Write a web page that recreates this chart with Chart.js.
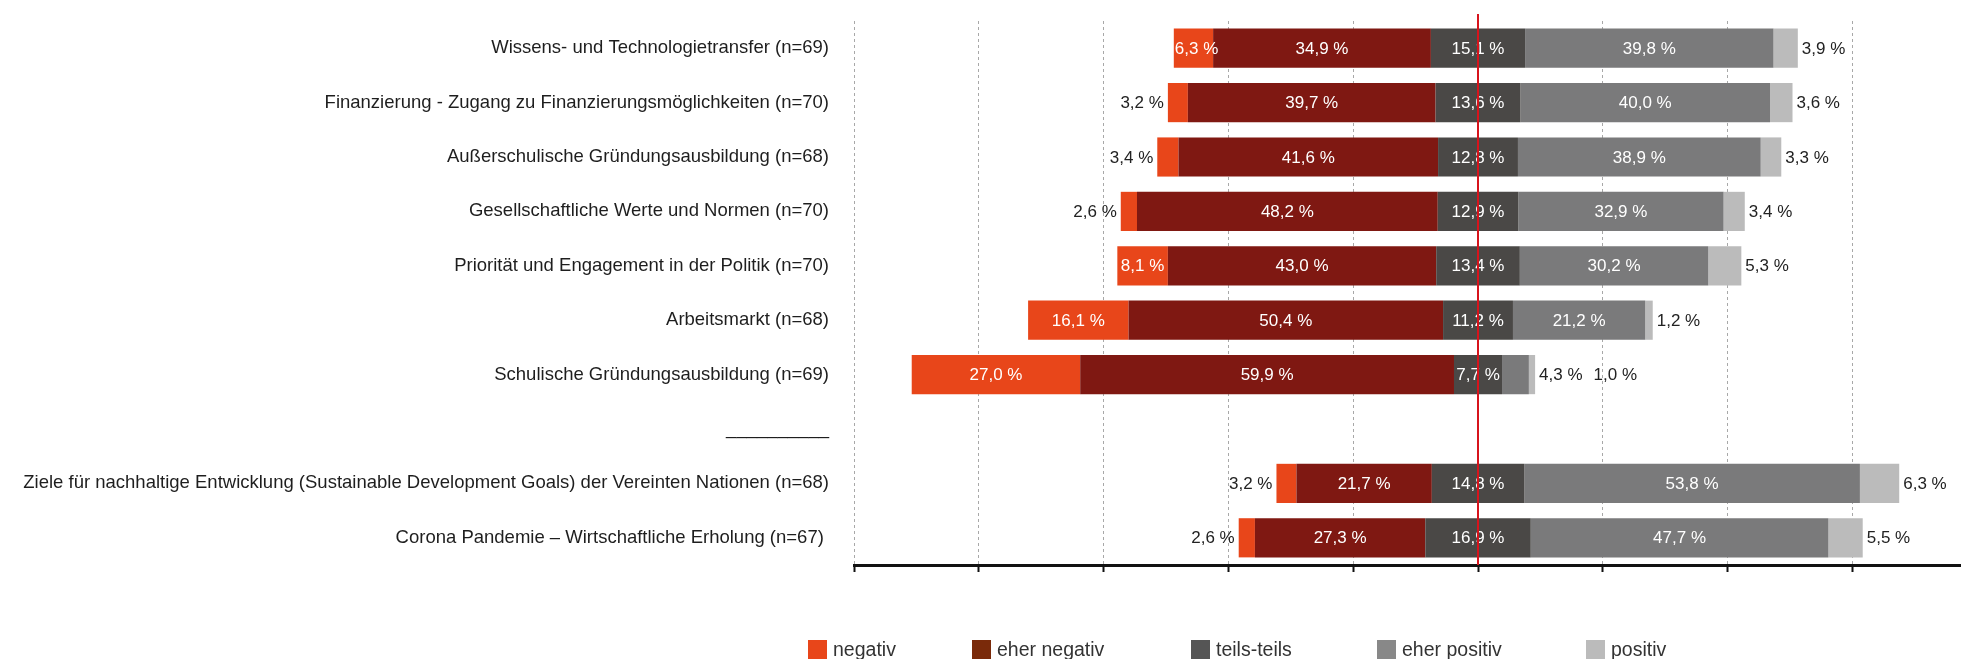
<!DOCTYPE html>
<html>
<head>
<meta charset="utf-8">
<script src="https://cdn.jsdelivr.net/npm/chart.js@4.4.1/dist/chart.umd.min.js"></script>
<style>
html,body{margin:0;padding:0;background:#fff;}
#wrap{position:relative;width:1961px;height:659px;overflow:hidden;background:#fff;}
#legend{position:absolute;left:0;top:640px;width:1961px;height:19px;font:19.5px 'Liberation Sans',Arial,sans-serif;color:#333;}
.li{position:absolute;top:0;height:19px;line-height:19px;white-space:nowrap;}
.li .box{display:inline-block;width:19px;height:19px;vertical-align:top;margin-right:6px;}
</style>
</head>
<body>
<div id="wrap"><canvas id="c" width="1961" height="659"></canvas><div id="legend"></div></div>
<script>
// ---- data ----
const categories = [
  "Wissens- und Technologietransfer (n=69)",
  "Finanzierung - Zugang zu Finanzierungsmöglichkeiten (n=70)",
  "Außerschulische Gründungsausbildung (n=68)",
  "Gesellschaftliche Werte und Normen (n=70)",
  "Priorität und Engagement in der Politik (n=70)",
  "Arbeitsmarkt (n=68)",
  "Schulische Gründungsausbildung (n=69)",
  "__________",
  "Ziele für nachhaltige Entwicklung (Sustainable Development Goals) der Vereinten Nationen (n=68)",
  "Corona Pandemie – Wirtschaftliche Erholung (n=67) "
];
const negativ     = [6.3, 3.2, 3.4, 2.6, 8.1, 16.1, 27.0, null, 3.2, 2.6];
const eherNegativ = [34.9, 39.7, 41.6, 48.2, 43.0, 50.4, 59.9, null, 21.7, 27.3];
const teilsTeils  = [15.1, 13.6, 12.8, 12.9, 13.4, 11.2, 7.7, null, 14.8, 16.9];
const eherPositiv = [39.8, 40.0, 38.9, 32.9, 30.2, 21.2, 4.3, null, 53.8, 47.7];
const positiv     = [3.9, 3.6, 3.3, 3.4, 5.3, 1.2, 1.0, null, 6.3, 5.5];
const seriesNames = ["negativ", "eher negativ", "teils-teils", "eher positiv", "positiv"];
const xTickValues = [-100, -80, -60, -40, -20, 0, 20, 40, 60];

// ---- styles ----
const FONT = "'Liberation Sans', Arial, sans-serif";
const barColors = {neg: '#E8461A', eneg: '#7F1812', teil: '#4A4846', epos: '#7A7A7B', pos: '#BBBBBB'};
const legendColors = ['#E8461A', '#7A2A0A', '#555555', '#888888', '#BBBBBB'];
const legendLefts = [808, 972, 1191, 1377, 1586];

Chart.defaults.font.family = FONT;

const neg = a => a.map(v => v == null ? null : -v);
const half = a => a.map(v => v == null ? null : v / 2);

const datasets = [
  {label: seriesNames[2], key: 'teilL', data: neg(half(teilsTeils)), backgroundColor: barColors.teil},
  {label: seriesNames[1], key: 'eneg', data: neg(eherNegativ), backgroundColor: barColors.eneg},
  {label: seriesNames[0], key: 'neg', data: neg(negativ), backgroundColor: barColors.neg},
  {label: seriesNames[2], key: 'teilR', data: half(teilsTeils), backgroundColor: barColors.teil},
  {label: seriesNames[3], key: 'epos', data: eherPositiv, backgroundColor: barColors.epos},
  {label: seriesNames[4], key: 'pos', data: positiv, backgroundColor: barColors.pos}
].map(d => Object.assign(d, {stack: 's', borderWidth: 0, barPercentage: 0.72, categoryPercentage: 1.0}));

const fmt = v => v.toFixed(1).replace('.', ',') + ' %';

const labelPlugin = {
  id: 'barLabels',
  afterDatasetsDraw(chart) {
    const ctx = chart.ctx;
    const xs = chart.scales.x;
    const metas = {};
    chart.data.datasets.forEach((d, i) => { metas[d.key] = chart.getDatasetMeta(i); });
    ctx.save();
    ctx.font = '17px ' + FONT;
    ctx.textBaseline = 'middle';
    const inside = '#FFFFFF', outside = '#222222';
    for (let i = 0; i < categories.length; i++) {
      if (teilsTeils[i] == null) continue;
      const eN = metas.neg.data[i], eEN = metas.eneg.data[i], eTL = metas.teilL.data[i],
            eEP = metas.epos.data[i], eP = metas.pos.data[i];
      const y = eTL.y + 1;
      const seg = e => ({a: Math.min(e.x, e.base), b: Math.max(e.x, e.base)});
      const fits = (s, t) => (s.b - s.a) >= 0.8 * ctx.measureText(t).width;
      ctx.fillStyle = inside; ctx.textAlign = 'center';
      ctx.fillText(fmt(teilsTeils[i]), xs.getPixelForValue(0), y);
      let s = seg(eEN); let t = fmt(eherNegativ[i]);
      ctx.fillText(t, (s.a + s.b) / 2, y);
      s = seg(eN); t = fmt(negativ[i]);
      if (fits(s, t)) {
        ctx.fillStyle = inside;
        const w = ctx.measureText(t).width;
        if (w > s.b - s.a) { ctx.textAlign = 'left'; ctx.fillText(t, s.a + 1, y); }
        else { ctx.textAlign = 'center'; ctx.fillText(t, (s.a + s.b) / 2, y); }
      }
      else { ctx.fillStyle = outside; ctx.textAlign = 'right'; ctx.fillText(t, s.a - 4, y); }
      let cursor = seg(eP).b + 4;
      s = seg(eEP); t = fmt(eherPositiv[i]);
      if (fits(s, t)) { ctx.fillStyle = inside; ctx.textAlign = 'center'; ctx.fillText(t, (s.a + s.b) / 2, y); }
      else { ctx.fillStyle = outside; ctx.textAlign = 'left'; ctx.fillText(t, cursor, y); cursor += ctx.measureText(t).width + 11; }
      ctx.fillStyle = outside; ctx.textAlign = 'left';
      ctx.fillText(fmt(positiv[i]), cursor, y);
    }
    ctx.restore();
  }
};

const zeroLine = {
  id: 'zeroLine',
  afterDraw(chart) {
    const ctx = chart.ctx, xs = chart.scales.x;
    const x = Math.round(xs.getPixelForValue(0));
    ctx.save();
    ctx.strokeStyle = '#D7141C';
    ctx.lineWidth = 2;
    ctx.beginPath();
    ctx.moveTo(x, 14);
    ctx.lineTo(x, chart.chartArea.bottom);
    ctx.stroke();
    ctx.restore();
  }
};

const chart = new Chart(document.getElementById('c'), {
  type: 'bar',
  data: {labels: categories, datasets},
  options: {
    indexAxis: 'y',
    responsive: false,
    animation: false,
    devicePixelRatio: 1,
    layout: {padding: {top: 21, bottom: 87, left: 0, right: 0}},
    plugins: {legend: {display: false}, tooltip: {enabled: false}},
    scales: {
      x: {
        type: 'linear', stacked: true, min: -100, max: 77.4,
        afterBuildTicks: sc => { sc.ticks = xTickValues.map(v => ({value: v})); },
        ticks: {display: false},
        grid: {color: '#A8A8A8', lineWidth: 1, drawTicks: true, tickLength: 7, tickColor: '#111111', tickWidth: 2, tickBorderDash: []},
        border: {display: true, color: '#111111', width: 3, dash: [3, 3]}
      },
      y: {
        type: 'category', stacked: true,
        afterFit: sc => { sc.width = 854; sc.paddingTop = 0; sc.paddingBottom = 0; },
        grid: {display: false, drawTicks: false},
        border: {display: false},
        ticks: {autoSkip: false, padding: 25, color: '#1E1E1E', font: {size: 18.5, family: FONT}}
      }
    }
  },
  plugins: [labelPlugin, zeroLine]
});

// HTML legend built from the chart's series names
const lg = document.getElementById('legend');
seriesNames.forEach((name, i) => {
  const d = document.createElement('div');
  d.className = 'li';
  d.style.left = legendLefts[i] + 'px';
  const b = document.createElement('span');
  b.className = 'box';
  b.style.background = legendColors[i];
  d.appendChild(b);
  d.appendChild(document.createTextNode(name));
  lg.appendChild(d);
});
</script>
</body>
</html>
